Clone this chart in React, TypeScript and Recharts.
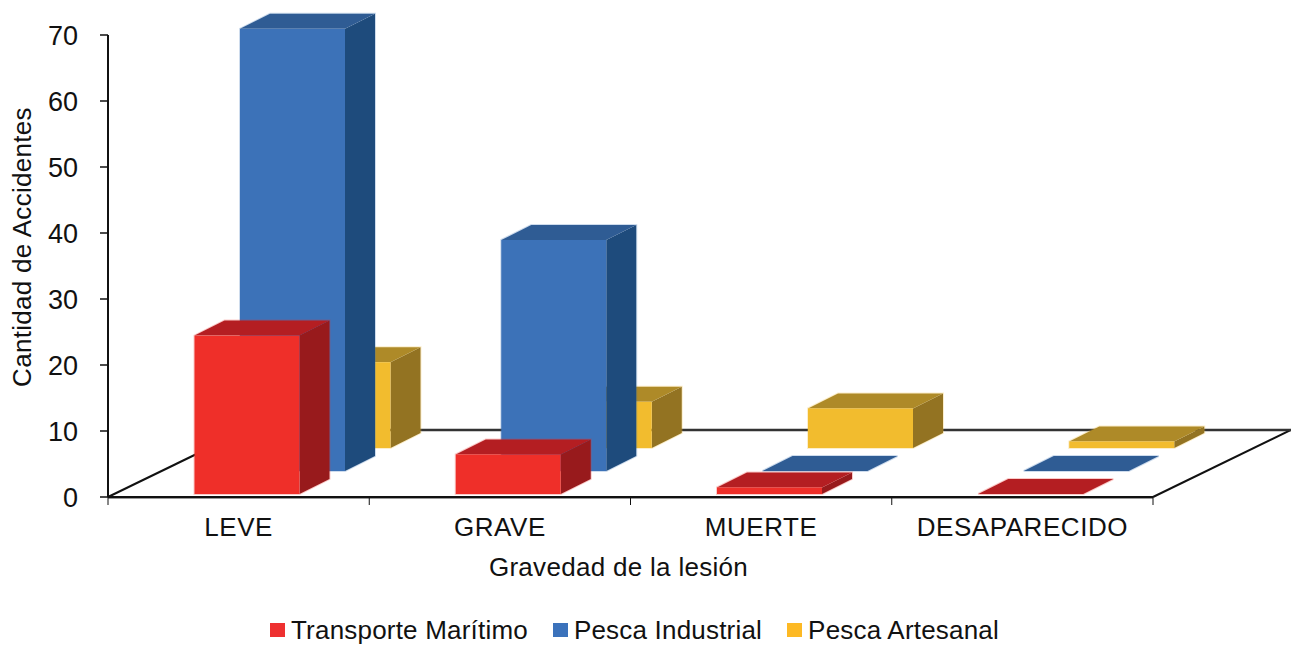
import React from "react";
import { BarChart, Bar, XAxis, YAxis, Legend, usePlotArea } from "recharts";

const categories = ["LEVE", "GRAVE", "MUERTE", "DESAPARECIDO"];
const transporte = [24, 6, 1, 0];
const industrial = [67, 35, 0, 0];
const artesanal = [13, 7, 6, 1];
const yTicks = [0, 10, 20, 30, 40, 50, 60, 70];

const data = categories.map((name, i) => ({
  name,
  transporte: transporte[i],
  industrial: industrial[i],
  artesanal: artesanal[i],
}));

const FONT = '"Liberation Sans", Arial, sans-serif';
const TEXT = "#111";

// row: how far back on the floor the series stands (0 = front)
const SERIES = [
  { key: "transporte", name: "Transporte Marítimo", row: 0, front: "#EF2F29", top: "#B41E22", side: "#981A1C", swatch: "#EE3030" },
  { key: "industrial", name: "Pesca Industrial", row: 1, front: "#3C72B8", top: "#2F5C94", side: "#1E4B7C", swatch: "#3B72BB" },
  { key: "artesanal", name: "Pesca Artesanal", row: 2, front: "#F2BC2E", top: "#AE8A28", side: "#937322", swatch: "#FDB924" },
];

const FLOOR_DX = 138;
const FLOOR_DY = 67;
const BAR_DX = 30;
const BAR_DY = 15;

// 3D box drawn from the rectangle recharts works out for the bar
const Box3D = (props: any) => {
  const { x, y, width, height, series } = props;
  const left = x + 8.5 + series.row * 45.5;
  const right = left + width;
  const top = y - 3 - series.row * 23;
  const bottom = top + height;
  const outline = `${left},${top} ${left + BAR_DX},${top - BAR_DY} ${right + BAR_DX},${top - BAR_DY} ${right + BAR_DX},${bottom - BAR_DY} ${right},${bottom} ${left},${bottom}`;
  return (
    <g>
      {/* soft pale edge round the whole box */}
      <polygon points={outline} fill="none" stroke={series.front} strokeOpacity={0.25} strokeWidth={2} />
      <polygon
        points={`${right},${top} ${right + BAR_DX},${top - BAR_DY} ${right + BAR_DX},${bottom - BAR_DY} ${right},${bottom}`}
        fill={series.side}
      />
      <polygon
        points={`${left},${top} ${left + BAR_DX},${top - BAR_DY} ${right + BAR_DX},${top - BAR_DY} ${right},${top}`}
        fill={series.top}
      />
      {height > 0 && <rect x={left} y={top} width={width} height={height} fill={series.front} />}
    </g>
  );
};

// floor outline and the tick marks at the category borders
const Floor = () => {
  const plot = usePlotArea();
  if (!plot) return null;
  const x0 = plot.x;
  const x1 = plot.x + plot.width;
  const y0 = plot.y + plot.height;
  const line = { stroke: "#111", strokeWidth: 2 };
  return (
    <g>
      <line x1={x0} y1={y0 + 1} x2={x1} y2={y0 + 1} stroke="#999" strokeWidth={2} />
      <line x1={x0} y1={y0} x2={x0 + FLOOR_DX} y2={y0 - FLOOR_DY} {...line} />
      <line x1={x1} y1={y0} x2={x1 + FLOOR_DX} y2={y0 - FLOOR_DY} {...line} />
      <line x1={x0 + FLOOR_DX} y1={y0 - FLOOR_DY} x2={x1 + FLOOR_DX} y2={y0 - FLOOR_DY} stroke="#333" strokeWidth={2.5} />
      {[0, 1, 2, 3, 4].map((i) => {
        const tx = x0 + (i * plot.width) / categories.length;
        return <line key={i} x1={tx} y1={y0} x2={tx} y2={y0 + 8} stroke="#111" strokeWidth={1} />;
      })}
    </g>
  );
};

const LegendRow = () => (
  <div style={{ display: "flex", alignItems: "center", paddingLeft: 270, height: 30, fontFamily: FONT, fontSize: 26, letterSpacing: 0.2, color: TEXT, whiteSpace: "nowrap" }}>
    {SERIES.map((s, i) => (
      <span key={s.key} style={{ display: "flex", alignItems: "center", marginLeft: i === 0 ? 0 : 25 }}>
        <span style={{ width: 15, height: 14, background: s.swatch, marginRight: 6 }} />
        {s.name}
      </span>
    ))}
  </div>
);

export default function App() {
  return (
    <div style={{ position: "absolute", left: 0, top: 0 }}>
      <BarChart
        width={1291}
        height={645}
        data={data}
        barSize={105}
        barGap={-105}
        margin={{ top: 35, right: 138, bottom: 0, left: 38 }}
      >
        <Floor />
        <XAxis
          dataKey="name"
          height={118}
          tickLine={false}
          axisLine={{ stroke: "#111", strokeWidth: 2 }}
          tick={{ fill: TEXT, fontSize: 26, fontFamily: FONT, letterSpacing: 0.55 }}
          tickMargin={15}
          interval={0}
          label={{ value: "Gravedad de la lesión", position: "insideBottom", offset: 39, dx: -12, fill: TEXT, fontSize: 26, fontFamily: FONT, letterSpacing: 0.3 }}
        />
        <YAxis
          width={70}
          domain={[0, 70]}
          ticks={yTicks}
          interval={0}
          tickSize={8}
          tickLine={{ stroke: "#111", strokeWidth: 1.5 }}
          axisLine={{ stroke: "#111", strokeWidth: 2 }}
          tick={{ fill: TEXT, fontSize: 27, fontFamily: FONT }}
          tickMargin={22}
          label={{ value: "Cantidad de Accidentes", angle: -90, position: "insideLeft", dx: -21, dy: -19, fill: TEXT, fontSize: 26, fontFamily: FONT, letterSpacing: 0.3, style: { textAnchor: "middle" } }}
        />
        <Legend verticalAlign="bottom" height={30} content={<LegendRow />} wrapperStyle={{ left: 0, width: 1291 }} />
        {[...SERIES].reverse().map((s) => (
          <Bar
            key={s.key}
            dataKey={s.key}
            name={s.name}
            isAnimationActive={false}
            shape={(p: any) => <Box3D {...p} series={s} />}
          />
        ))}
      </BarChart>
    </div>
  );
}
